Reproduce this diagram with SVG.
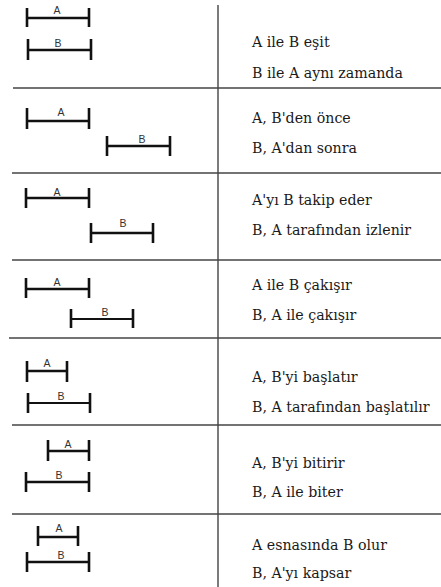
<svg xmlns="http://www.w3.org/2000/svg" width="441" height="587" viewBox="0 0 441 587">
  <style>
    .bar { stroke: #111; stroke-width: 2.6; fill: none; }
    .thin { stroke-width: 2; }
    .lbl { font-family: "Liberation Sans", Arial, sans-serif; font-size: 10.5px; fill: #333; text-anchor: middle; }
    .desc { font-family: "DejaVu Serif", "Liberation Serif", serif; font-size: 14.2px; fill: #1a1a1a; }
    .rule { stroke: #444; stroke-width: 1.4; fill: none; }
  </style>
  <rect width="441" height="587" fill="#fff"/>

  <!-- table rules -->
  <g id="grid">
    <line class="rule" x1="218" y1="5" x2="218" y2="587"/>
    <line class="rule" x1="13" y1="88" x2="441" y2="88"/>
    <line class="rule" x1="12" y1="173" x2="441" y2="173"/>
    <line class="rule" x1="12" y1="260" x2="441" y2="260"/>
    <line class="rule" x1="9" y1="338" x2="441" y2="338"/>
    <line class="rule" x1="12" y1="425" x2="441" y2="425"/>
    <line class="rule" x1="12" y1="514" x2="441" y2="514"/>
  </g>

  <!-- row 1: equal -->
  <g id="row-equal">
    <path class="bar" d="M27 8V27M89 8V27M27 18H89"/>
    <text class="lbl" x="57" y="14">A</text>
    <path class="bar" d="M28 39V60M91 39V60M28 50H91"/>
    <text class="lbl" x="58" y="47">B</text>
    <text class="desc" x="252" y="47">A ile B eşit</text>
    <text class="desc" x="252" y="78">B ile A aynı zamanda</text>
  </g>

  <!-- row 2: before -->
  <g id="row-before">
    <path class="bar" d="M27 108V129M89 108V129M27 121H89"/>
    <text class="lbl" x="61" y="116">A</text>
    <path class="bar" d="M107 136V156M170 136V156M107 146H170"/>
    <text class="lbl" x="142" y="143">B</text>
    <text class="desc" x="252" y="123">A, B'den önce</text>
    <text class="desc" x="252" y="153">B, A'dan sonra</text>
  </g>

  <!-- row 3: meets -->
  <g id="row-meets">
    <path class="bar" d="M26 188V208M89 188V208M26 198H89"/>
    <text class="lbl" x="57" y="196">A</text>
    <path class="bar" d="M91 223V243M153 223V243M91 233H153"/>
    <text class="lbl" x="123" y="227">B</text>
    <text class="desc" x="252" y="205">A'yı B takip eder</text>
    <text class="desc" x="252" y="235">B, A tarafından izlenir</text>
  </g>

  <!-- row 4: overlaps -->
  <g id="row-overlaps">
    <path class="bar" d="M26 278V298M89 278V298M26 289H89"/>
    <text class="lbl" x="57" y="286">A</text>
    <path class="bar" d="M71 309V328M133 309V328"/>
    <path class="bar thin" d="M71 319H133"/>
    <text class="lbl" x="105" y="316">B</text>
    <text class="desc" x="252" y="290">A ile B çakışır</text>
    <text class="desc" x="252" y="320">B, A ile çakışır</text>
  </g>

  <!-- row 5: starts -->
  <g id="row-starts">
    <path class="bar" d="M27 361V382M67 361V382M27 371H67"/>
    <text class="lbl" x="47" y="367">A</text>
    <path class="bar" d="M28 393V413M90 393V413"/>
    <path class="bar thin" d="M28 403H90"/>
    <text class="lbl" x="61" y="400">B</text>
    <text class="desc" x="252" y="382">A, B'yi başlatır</text>
    <text class="desc" x="252" y="412">B, A tarafından başlatılır</text>
  </g>

  <!-- row 6: finishes -->
  <g id="row-finishes">
    <path class="bar" d="M48 440V461M89 440V461M48 451H89"/>
    <text class="lbl" x="68" y="448">A</text>
    <path class="bar" d="M26 472V492M89 472V492M26 482H89"/>
    <text class="lbl" x="59" y="479">B</text>
    <text class="desc" x="252" y="468">A, B'yi bitirir</text>
    <text class="desc" x="252" y="497">B, A ile biter</text>
  </g>

  <!-- row 7: during -->
  <g id="row-during">
    <path class="bar" d="M38 526V546M78 526V546M38 537H78"/>
    <text class="lbl" x="59" y="532">A</text>
    <path class="bar" d="M27 552V572M89 552V572M27 562H89"/>
    <text class="lbl" x="61" y="559">B</text>
    <text class="desc" x="252" y="550">A esnasında B olur</text>
    <text class="desc" x="252" y="578">B, A'yı kapsar</text>
  </g>
</svg>
